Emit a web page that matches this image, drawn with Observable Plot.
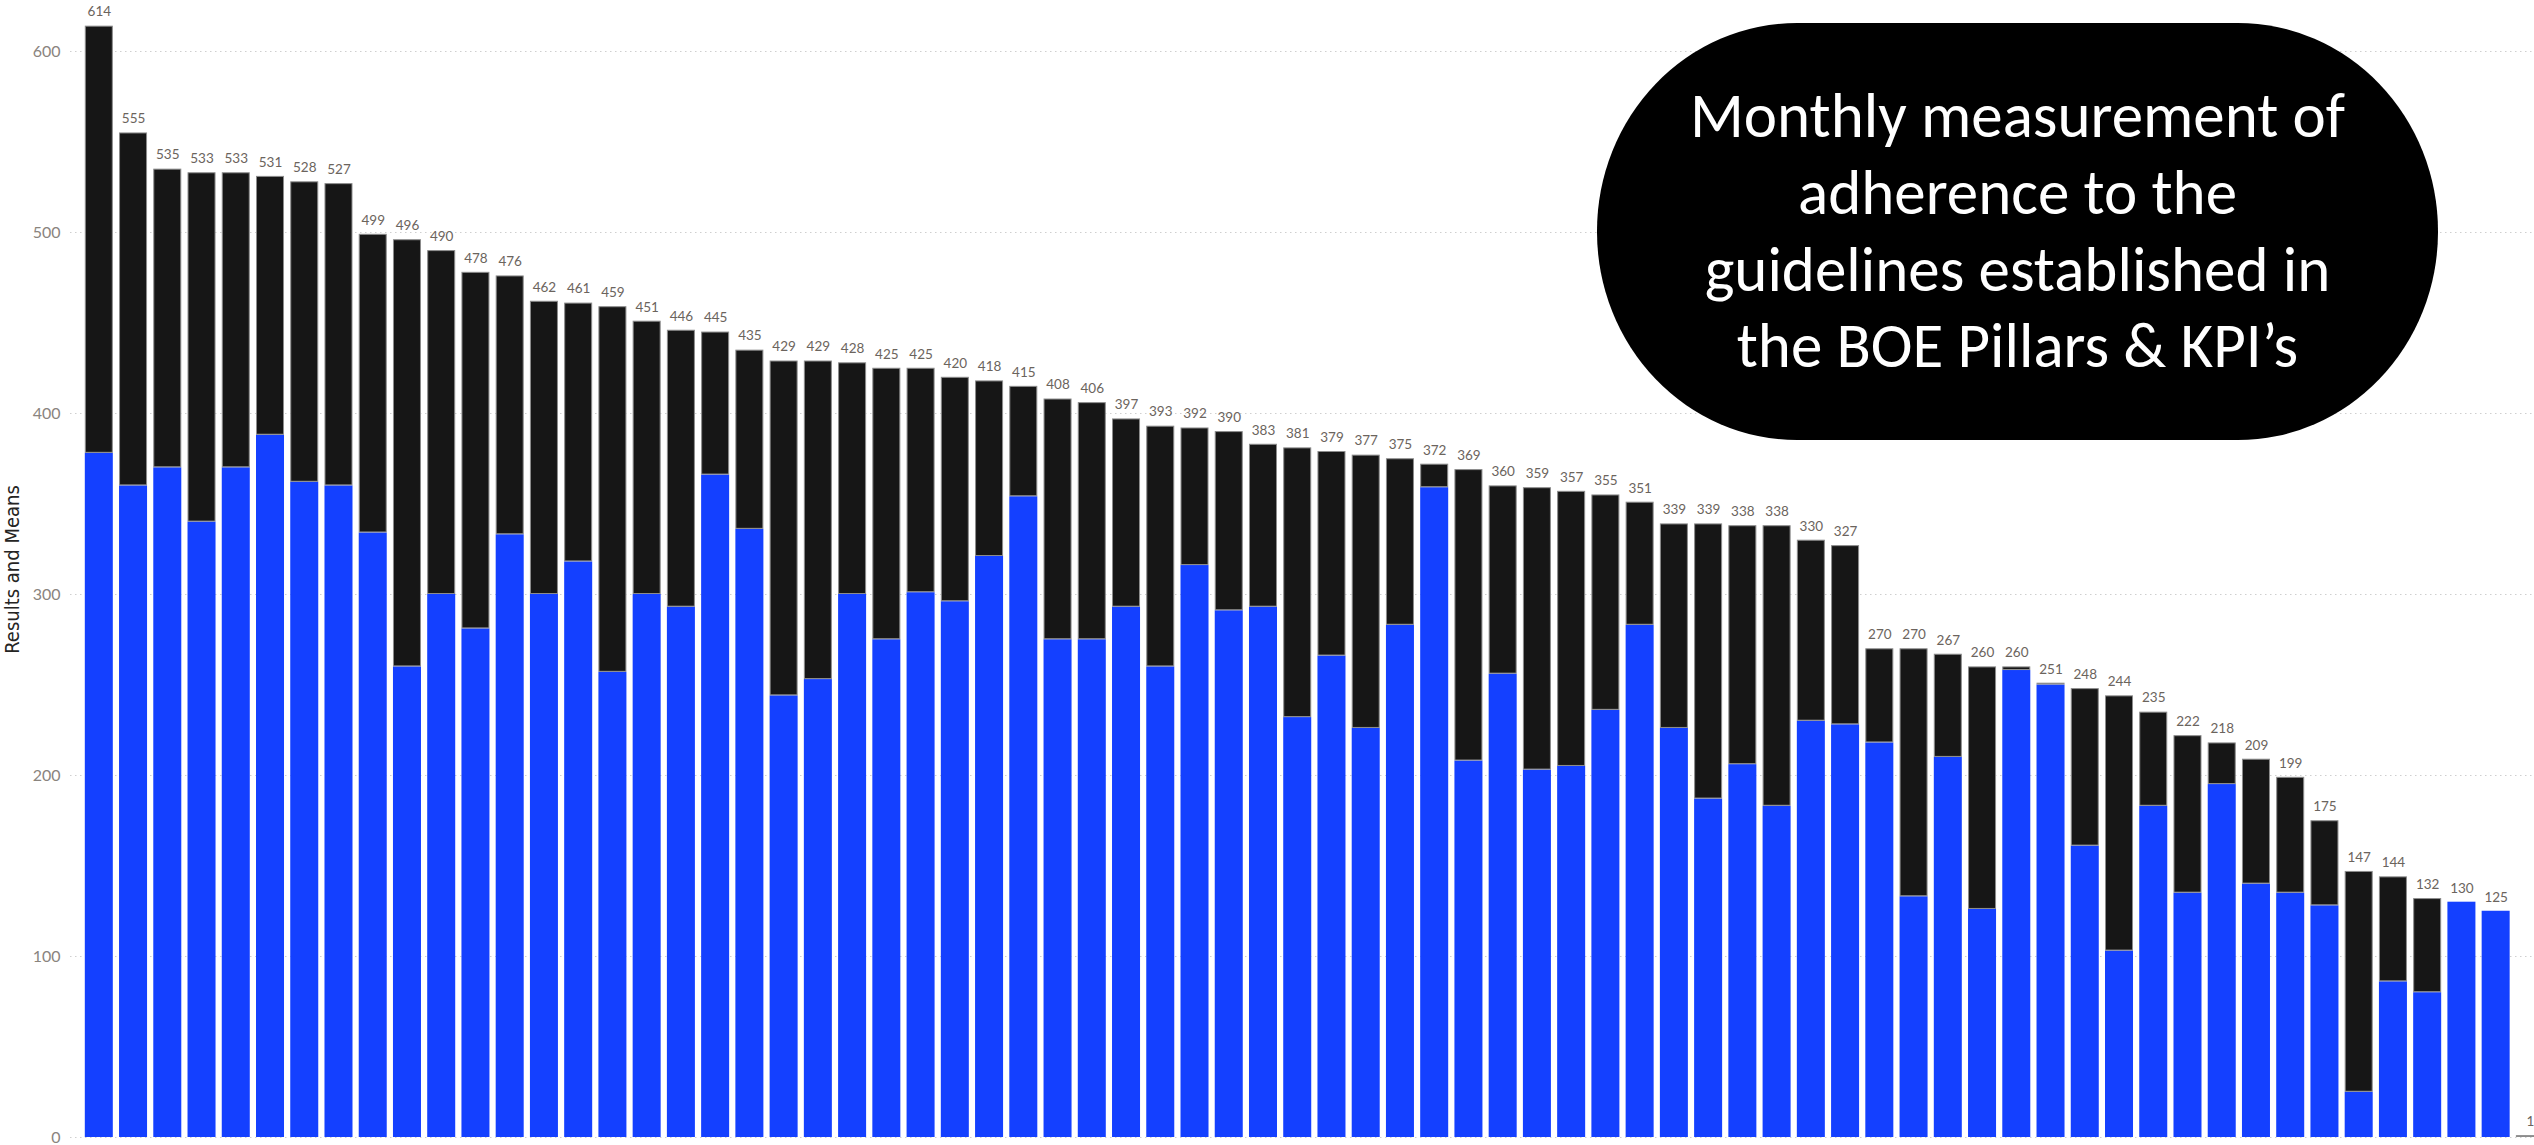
<!DOCTYPE html>
<html>
<head>
<meta charset="utf-8">
<script src="https://cdn.jsdelivr.net/npm/d3@7"></script>
<script src="https://cdn.jsdelivr.net/npm/@observablehq/plot@0.6"></script>
<style>
  html, body { margin: 0; padding: 0; background: #fff; }
  #wrap { position: relative; width: 2534px; height: 1145px; overflow: hidden; }
  #note {
    position: absolute; left: 1597px; top: 23px; width: 841px; height: 417px;
    background: #000; border-radius: 200px / 208px;
    display: flex; align-items: center; justify-content: center;
    color: #fff; font-family: Carlito, Calibri, "Open Sans", sans-serif;
    font-size: 63px; line-height: 76.7px; text-align: center;
  }
</style>
</head>
<body>
<div id="wrap"><div id="note">Monthly measurement of<br>adherence to the<br>guidelines established in<br>the BOE Pillars &amp; KPI’s</div></div>
<script>
// Bar totals (label on top of each bar), left to right
const totals = [614,555,535,533,533,531,528,527,499,496,490,478,476,462,461,459,451,446,445,435,
  429,429,428,425,425,420,418,415,408,406,397,393,392,390,383,381,379,377,375,372,
  369,360,359,357,355,351,339,339,338,338,330,327,270,270,267,260,260,251,248,244,
  235,222,218,209,199,175,147,144,132,130,125,1];
// Blue (lower) segment of each bar
const blue = [378,360,370,340,370,388,362,360,334,260,300,281,333,300,318,257,300,293,366,336,
  244,253,300,275,301,296,321,354,275,275,293,260,316,291,293,232,266,226,283,359,
  208,256,203,205,236,283,226,187,206,183,230,228,218,133,210,126,258,250,161,103,
  183,135,195,140,135,128,25,86,80,130,125,0];
// Categories (unlabelled in the source): rank order
const categories = totals.map((_, i) => String(i + 1));
const yTicks = [0, 100, 200, 300, 400, 500, 600];
const yTitle = ["Results and Means"];

const data = categories.map((c, i) => ({cat: c, blue: blue[i], total: totals[i]}));

const chart = Plot.plot({
  width: 2534,
  height: 1145,
  marginLeft: 70,
  marginRight: 0,
  marginTop: 0,
  marginBottom: 7,
  style: {fontFamily: "Lato, 'Open Sans', sans-serif", background: "transparent", overflow: "hidden"},
  x: {type: "band", domain: categories, range: [84.8, 2543.9], paddingInner: 0.182, paddingOuter: 0, round: false, axis: null},
  y: {domain: [0, 600], range: [1137, 51]},
  marks: [
    Plot.gridY(yTicks, {stroke: "#cfcfcf", strokeOpacity: 1, strokeDasharray: "1.5,3.5"}),
    Plot.barY(data, {x: "cat", y1: 0, y2: "blue", fill: "#1440ff"}),
    Plot.barY(data, {x: "cat", y1: "blue", y2: "total", fill: "#161616", stroke: "#8c8c8c", strokeWidth: 1, inset: 0.5}),
    Plot.text(data, {x: "cat", y: "total", text: d => String(d.total), dy: -14, fontSize: 13.5, fill: "#6b645d"}),
    Plot.axisY(yTicks, {tickSize: 0, tickPadding: 10, fontSize: 16, fill: "#8a847e", label: null}),
    Plot.text(yTitle, {frameAnchor: "left", text: d => d, rotate: -90, dx: -58, textAnchor: "middle", lineAnchor: "middle",
      fontSize: 20, fontFamily: "'Liberation Sans Narrow', 'DejaVu Sans Condensed', sans-serif", fill: "#252423"})
  ]
});
document.getElementById("wrap").prepend(chart);
</script>
</body>
</html>
